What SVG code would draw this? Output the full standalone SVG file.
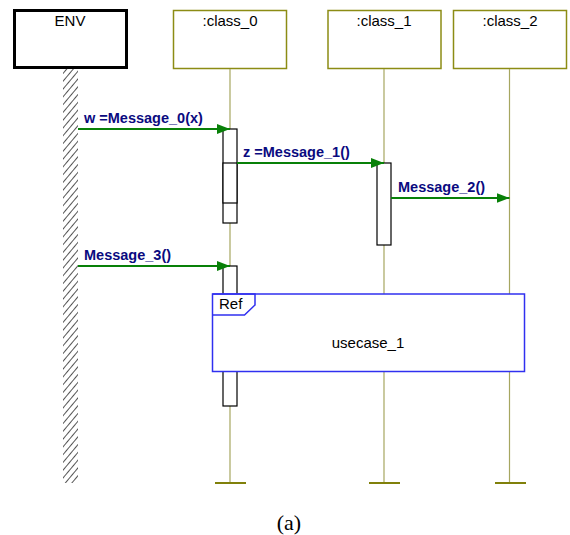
<svg xmlns="http://www.w3.org/2000/svg" width="570" height="535" viewBox="0 0 570 535">
<style>
.obj{fill:#fff;stroke:#8c8c14;stroke-width:1.5}
.life{stroke:#a6a660;stroke-width:1.2;fill:none}
.foot{stroke:#80800a;stroke-width:2}
.act{fill:#fff;stroke:#000;stroke-width:1.2}
.msg{stroke:#088008;stroke-width:2;fill:none}
.lbl{font-family:"Liberation Sans",Arial,sans-serif;font-size:14.5px;font-weight:bold;fill:#0a0a80}
.name{font-family:"Liberation Sans",Arial,sans-serif;font-size:15px;fill:#000}
</style>
<defs>
<marker id="arr" markerWidth="13" markerHeight="10" refX="13" refY="5" orient="auto" markerUnits="userSpaceOnUse">
<path d="M0,0 L13,5 L0,10 Z" fill="#088008"/>
</marker>
<pattern id="hatch" width="10" height="5" patternUnits="userSpaceOnUse" patternTransform="rotate(-50)">
<line x1="0" y1="0.5" x2="10" y2="0.5" stroke="#555" stroke-width="1"/>
</pattern>
</defs>
<g id="env">
<rect x="14.5" y="10.5" width="112" height="57" fill="#fff" stroke="#000" stroke-width="3"/>
<text class="name" x="70" y="26" text-anchor="middle">ENV</text>
<rect x="63" y="69" width="15" height="414" fill="url(#hatch)"/>
</g>
<g id="class_0">
<rect class="obj" x="173.5" y="10.5" width="113" height="58"/>
<text class="name" x="230" y="26" text-anchor="middle">:class_0</text>
<line class="life" x1="230" y1="69" x2="230" y2="483"/>
<line class="foot" x1="215" y1="483" x2="246" y2="483"/>
<rect class="act" x="223" y="129" width="14" height="94"/>
<rect class="act" x="223" y="163" width="14" height="40"/>
<rect class="act" x="223" y="266" width="14" height="140"/>
</g>
<g id="class_1">
<rect class="obj" x="328" y="10.5" width="113" height="58"/>
<text class="name" x="384" y="26" text-anchor="middle">:class_1</text>
<line class="life" x1="384" y1="69" x2="384" y2="483"/>
<line class="foot" x1="369" y1="483" x2="400" y2="483"/>
<rect class="act" x="377" y="163" width="14" height="82"/>
</g>
<g id="class_2">
<rect class="obj" x="453.5" y="10.5" width="113" height="58"/>
<text class="name" x="510" y="26" text-anchor="middle">:class_2</text>
<line class="life" x1="509.5" y1="69" x2="509.5" y2="483"/>
<line class="foot" x1="495" y1="483" x2="526" y2="483"/>
</g>
<g id="ref">
<rect x="212.5" y="294" width="312" height="77.5" fill="#fff" stroke="#3030f0" stroke-width="1.5"/>
<path d="M212.5,294 L255,294 L255,305 L244.5,315 L212.5,315" fill="none" stroke="#3030f0" stroke-width="1.5"/>
<text class="name" x="219" y="309">Ref</text>
<text class="name" x="368" y="348" text-anchor="middle">usecase_1</text>
</g>
<g id="connectors">
<line class="msg" x1="78" y1="129" x2="230" y2="129" marker-end="url(#arr)"/>
<text class="lbl" x="84" y="123">w =Message_0(x)</text>
<line class="msg" x1="237" y1="163" x2="384" y2="163" marker-end="url(#arr)"/>
<text class="lbl" x="243" y="157">z =Message_1()</text>
<line class="msg" x1="391" y1="198" x2="509.5" y2="198" marker-end="url(#arr)"/>
<text class="lbl" x="398" y="192">Message_2()</text>
<line class="msg" x1="78" y1="266" x2="230" y2="266" marker-end="url(#arr)"/>
<text class="lbl" x="84" y="260">Message_3()</text>
</g>
<text x="289" y="530" text-anchor="middle" font-family="'Liberation Serif','Times New Roman',serif" font-size="22" fill="#000">(a)</text>
</svg>
